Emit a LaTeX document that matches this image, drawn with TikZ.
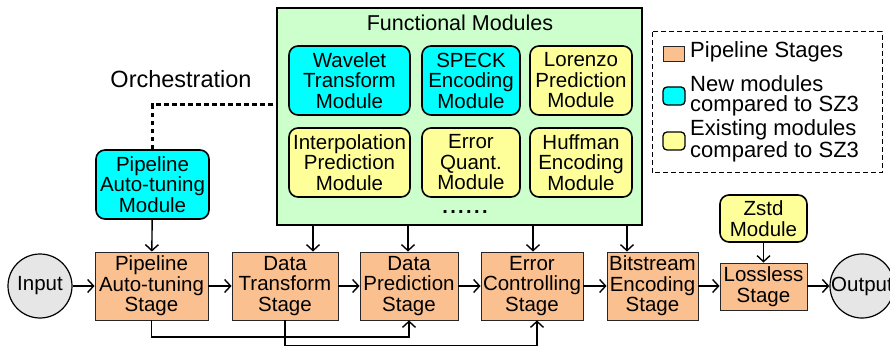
\documentclass[tikz,border=0pt]{standalone}
\usepackage{fontspec}
\setmainfont{Liberation Sans}
\usetikzlibrary{arrows.meta,calc}

\definecolor{stagefill}{HTML}{FAC090}
\definecolor{newfill}{HTML}{00FFFF}
\definecolor{oldfill}{HTML}{FFFF99}
\definecolor{groupfill}{HTML}{CCFFCC}
\definecolor{iofill}{HTML}{E6E6E6}

\newcommand{\fsbox}{\fontsize{20.5}{20.5}\selectfont}
\newcommand{\fslegend}{\fontsize{22}{20}\selectfont}
\newcommand{\spreaddots}{\textbf{.\hspace{2.4pt}.\hspace{2.4pt}.\hspace{2.4pt}.\hspace{2.4pt}.\hspace{2.4pt}.}}

\tikzset{
  stagebox/.style={draw=black!85, line width=0.9pt, fill=stagefill, inner sep=0pt,
    align=center, font=\fsbox},
  modbox/.style={draw=black, line width=1.6pt, rounded corners=9pt, inner sep=0pt,
    align=center, font=\fsbox},
  newmod/.style={modbox, fill=newfill},
  oldmod/.style={modbox, fill=oldfill},
  iocircle/.style={circle, draw=black, line width=1.2pt, fill=iofill, inner sep=0pt,
    minimum size=64pt, font=\fsbox},
  arr/.style={draw=black, line width=1.4pt, -{Straight Barb[length=6pt,width=13pt]}},
  orch/.style={draw=black, line width=3pt, dash pattern=on 4.5pt off 3.5pt},
  legtext/.style={anchor=west, inner sep=0pt, align=left, font=\fslegend},
}

\begin{document}
\begin{tikzpicture}[x=1pt, y=-1pt]
\useasboundingbox (0,0) rectangle (890,347);

% functional modules group
\node[draw=black, line width=1.4pt, fill=groupfill, minimum width=365pt,
      minimum height=217pt, inner sep=0pt] (fm) at (459.5,116.5) {};
\node[font=\fontsize{21.5}{22}\selectfont, inner sep=0pt] (fmtitle) at (460,23) {Functional Modules};

\node[newmod, minimum width=121pt, minimum height=69pt] (wav) at (349.5,80.5) {Wavelet\\Transform\\Module};
\node[newmod, minimum width=98pt, minimum height=69pt] (speck) at (471,80.5) {SPECK\\Encoding\\Module};
\node[oldmod, minimum width=102pt, minimum height=69pt] (lor) at (581,80.5) {Lorenzo\\Prediction\\Module};
\node[oldmod, minimum width=121pt, minimum height=69pt] (interp) at (349.5,162.5) {Interpolation\\Prediction\\Module};
\node[oldmod, minimum width=98pt, minimum height=69pt] (equant) at (471,162.5) {Error\\Quant.\\Module};
\node[oldmod, minimum width=102pt, minimum height=69pt] (huff) at (581,162.5) {Huffman\\Encoding\\Module};
\node[inner sep=0pt, font=\fontsize{20}{20}\selectfont, anchor=base] (more) at (465,214) {\spreaddots};

% pipeline auto-tuning module and orchestration link
\node[newmod, minimum width=113pt, minimum height=69pt] (patm) at (152.5,184.5) {Pipeline\\Auto-tuning\\Module};
\node[inner sep=0pt, font=\fontsize{23.5}{24}\selectfont] (orchlabel) at (181,79) {Orchestration};
\coordinate (orchy) at (0,105);
\draw[orch] (patm.north) |- (fm.west |- orchy);

% pipeline stages
\node[iocircle] (in) at (40,286) {Input};
\node[stagebox, minimum width=113pt, minimum height=68pt] (pas) at (151.5,286) {Pipeline\\Auto-tuning\\Stage};
\node[stagebox, minimum width=106pt, minimum height=68pt] (dts) at (285,286) {Data\\Transform\\Stage};
\node[stagebox, minimum width=98pt, minimum height=68pt] (dps) at (409,286) {Data\\Prediction\\Stage};
\node[stagebox, minimum width=102pt, minimum height=68pt] (ecs) at (532,286) {Error\\Controlling\\Stage};
\node[stagebox, minimum width=91pt, minimum height=68pt] (bes) at (652.5,286) {Bitstream\\Encoding\\Stage};
\node[stagebox, minimum width=87pt, minimum height=47pt] (ls) at (763.5,286.5) {Lossless\\Stage};
\node[oldmod, minimum width=87pt, minimum height=47pt] (zstd) at (763.5,218.5) {Zstd\\Module};
\node[iocircle] (out) at (862,286) {Output};

% main flow
\draw[arr] (in) -- (pas);
\draw[arr] (pas) -- (dts);
\draw[arr] (dts) -- (dps);
\draw[arr] (dps) -- (ecs);
\draw[arr] (ecs) -- (bes);
\draw[arr] (bes.east) -- (ls.west |- bes.east);
\draw[arr] (ls.east |- out.west) -- (out.west);

% module inputs
\draw[arr] (patm) -- (pas);
\draw[arr] (zstd) -- (ls);
\coordinate (tap1) at (313,0);
\coordinate (tap2) at (408,0);
\coordinate (tap3) at (533,0);
\coordinate (tap4) at (627,0);
\draw[arr] (fm.south -| tap1) -- (dts.north -| tap1);
\draw[arr] (fm.south -| tap2) -- (dps.north -| tap2);
\draw[arr] (fm.south -| tap3) -- (ecs.north -| tap3);
\draw[arr] (fm.south -| tap4) -- (bes.north -| tap4);

% skip connections
\draw[arr] (pas.south) -- ++(0,16.5) -| (dps.south);
\draw[arr] (dts.south) -- ++(0,25) -| ([xshift=5pt]ecs.south);

% legend
\draw[line width=1pt, dash pattern=on 5pt off 3pt] (652,32) rectangle (882,173);
\node[draw=black!85, line width=0.9pt, fill=stagefill, minimum width=21pt, minimum height=15pt, inner sep=0pt] (lg1) at (673.5,53.5) {};
\node[draw=black, line width=1.3pt, fill=newfill, rounded corners=4pt, minimum width=22pt, minimum height=18pt, inner sep=0pt] (lg2) at (674,96) {};
\node[draw=black, line width=1.3pt, fill=oldfill, rounded corners=4pt, minimum width=22pt, minimum height=18pt, inner sep=0pt] (lg3) at (674,141) {};
\node[legtext] (lt1) at (690,52) {Pipeline Stages};
\node[legtext] (lt2) at (690,96) {New modules\\compared to SZ3};
\node[legtext] (lt3) at (690,141) {Existing modules\\compared to SZ3};
\end{tikzpicture}
\end{document}
